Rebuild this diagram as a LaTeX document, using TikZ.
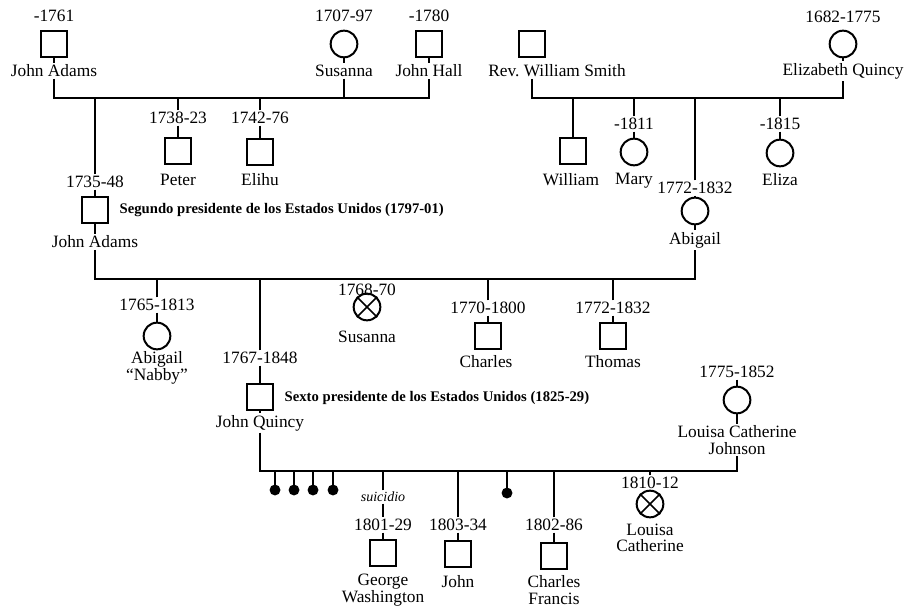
\documentclass[tikz,border=0pt]{standalone}
\usepackage{fontspec}
\setmainfont{Liberation Serif}

\tikzset{every picture/.style={line width=1.1pt}}
\tikzset{
  male/.style={draw, rectangle, minimum size=19pt, inner sep=0pt, line width=1.5pt},
  female/.style={draw, circle, minimum size=20pt, inner sep=0pt, line width=1.5pt},
  lost/.style={draw, circle, fill, minimum size=7pt, inner sep=0pt},
  lbl/.style={inner sep=0.75pt, align=center, font=\fontsize{13}{12.5}\selectfont},
  note/.style={inner sep=0.75pt, anchor=west, font=\fontsize{11}{13}\selectfont\bfseries},
  small/.style={inner sep=0.75pt, font=\fontsize{10.5}{12}\selectfont\itshape}
}

\begin{document}
\begin{tikzpicture}[x=0.75pt,y=0.75pt,yscale=-1,xscale=1]
\path[use as bounding box] (0,0) rectangle (905,609);

%Shape: Square [id:jas] 
\draw (54,16) node [lbl] (jasDate) {-1761};
\draw (54,44) node [male] (jas) {};
\draw (54,71) node [lbl] (jasName) {John Adams};
%Shape: Circle [id:sus] 
\draw (344,16) node [lbl] (susDate) {1707-97};
\draw (344,44) node [female] (sus) {};
\draw (344,71) node [lbl] (susName) {Susanna};
%Shape: Square [id:jh] 
\draw (429,16) node [lbl] (jhDate) {-1780};
\draw (429,44) node [male] (jh) {};
\draw (429,71) node [lbl] (jhName) {John Hall};
%Shape: Square [id:sm] 
\draw (532,44) node [male] (sm) {};
\draw (557,71) node [lbl] (smName) {Rev.\ William Smith};
%Shape: Circle [id:eq] 
\draw (843,17) node [lbl] (eqDate) {1682-1775};
\draw (843,44) node [female] (eq) {};
\draw (843,71) node [lbl] (eqName) {Elizabeth Quincy};

% marriage lines, first generation
\coordinate (m1) at (54,98);
\coordinate (m2) at (532,98);
%Straight Lines 
\draw (jas) -- (jasName);
\draw (sus) -- (susName);
\draw (jh) -- (jhName);
\draw (eq) -- (eqName);
\draw (jasName) -- (jasName |- m1) -- (jhName |- m1) -- (jhName);
\draw (susName) -- (susName |- m1);
\draw (smName.south -| sm) -- (m2) -- (eqName |- m2) -- (eqName);

%Shape: Square [id:pet] 
\draw (178,118) node [lbl] (petDate) {1738-23};
\draw (178,151) node [male] (pet) {};
\draw (178,180) node [lbl] (petName) {Peter};
%Shape: Square [id:eli] 
\draw (260,118) node [lbl] (eliDate) {1742-76};
\draw (260,152) node [male] (eli) {};
\draw (260,180) node [lbl] (eliName) {Elihu};
%Shape: Square [id:wil] 
\draw (573,151) node [male] (wil) {};
\draw (571,180) node [lbl] (wilName) {William};
%Shape: Circle [id:mar] 
\draw (634,124) node [lbl] (marDate) {-1811};
\draw (634,152) node [female] (mar) {};
\draw (634,181) node [lbl] (marName) {Mary};
%Shape: Circle [id:elz] 
\draw (780,124) node [lbl] (elzDate) {-1815};
\draw (780,153) node [female] (elz) {};
\draw (780,180) node [lbl] (elzName) {Eliza};

%Straight Lines 
\draw (petDate) -- (petDate |- m1);
\draw (petDate) -- (pet);
\draw (eliDate) -- (eliDate |- m1);
\draw (eliDate) -- (eli);
\draw (wil) -- (wil |- m2);
\draw (marDate) -- (marDate |- m2);
\draw (marDate) -- (mar);
\draw (elzDate) -- (elzDate |- m2);
\draw (elzDate) -- (elz);

%Shape: Square [id:ja] 
\draw (95,182) node [lbl] (jaDate) {1735-48};
\draw (95,210) node [male] (ja) {};
\draw (95,242) node [lbl] (jaName) {John Adams};
\draw (118,210) node [note] (jaNote) {Segundo presidente de los Estados Unidos (1797-01)};
%Shape: Circle [id:abi] 
\draw (695,188) node [lbl] (abiDate) {1772-1832};
\draw (695,211) node [female] (abi) {};
\draw (695,240) node [lbl] (abiName) {Abigail};

\coordinate (m3) at (95,279);
%Straight Lines 
\draw (jaDate) -- (jaDate |- m1);
\draw (jaDate) -- (ja) -- (jaName);
\draw (abiDate) -- (abiDate |- m2);
\draw (abiDate) -- (abi) -- (abiName);
\draw (jaName) -- (m3) -- (abiName |- m3) -- (abiName);

%Shape: Circle [id:nab] 
\draw (157,305) node [lbl] (nabDate) {1765-1813};
\draw (157,336) node [female] (nab) {};
\draw (157,368) node [lbl] (nabName) {Abigail\\“Nabby”};
%Shape: Circle [id:su2] 
\draw (367,290) node [lbl] (su2Date) {1768-70};
\draw (367,307) node [female] (su2) {};
\draw (367,337) node [lbl] (su2Name) {Susanna};
\draw (su2.45) -- (su2.225) (su2.135) -- (su2.315);
%Shape: Square [id:cha] 
\draw (488,308) node [lbl] (chaDate) {1770-1800};
\draw (488,336) node [male] (cha) {};
\draw (486,362) node [lbl] (chaName) {Charles};
%Shape: Square [id:tho] 
\draw (613,308) node [lbl] (thoDate) {1772-1832};
\draw (613,336) node [male] (tho) {};
\draw (613,362) node [lbl] (thoName) {Thomas};
%Shape: Square [id:jq] 
\draw (260,358) node [lbl] (jqDate) {1767-1848};
\draw (260,397) node [male] (jq) {};
\draw (260,423) node [lbl] (jqName) {John Quincy};
\draw (283,398) node [note] (jqNote) {Sexto presidente de los Estados Unidos (1825-29)};
%Shape: Circle [id:lcj] 
\draw (737,372) node [lbl] (lcjDate) {1775-1852};
\draw (737,400) node [female] (lcj) {};
\draw (737,440) node [lbl] (lcjName) {Louisa Catherine\\Johnson};

\coordinate (m4) at (260,471);
%Straight Lines 
\draw (nabDate) -- (nabDate |- m3);
\draw (nabDate) -- (nab);
\draw (chaDate) -- (chaDate |- m3);
\draw (chaDate) -- (cha);
\draw (thoDate) -- (thoDate |- m3);
\draw (thoDate) -- (tho);
\draw (jqDate) -- (jqDate |- m3);
\draw (jqDate) -- (jq) -- (jqName);
\draw (lcjDate) -- (lcj) -- (lcjName);
\draw (jqName) -- (m4) -- (lcjName |- m4) -- (lcjName);

%Shape: Circle [id:lost] 
\draw (275,490) node [lost] (d1) {};
\draw (294,490) node [lost] (d2) {};
\draw (313,490) node [lost] (d3) {};
\draw (333,490) node [lost] (d4) {};
\draw (507,493) node [lost] (d5) {};
%Shape: Square [id:gw] 
\draw (383,497) node [small] (gwNote) {suicidio};
\draw (383,525) node [lbl] (gwDate) {1801-29};
\draw (383,553) node [male] (gw) {};
\draw (383,590) node [lbl] (gwName) {George\\Washington};
%Shape: Square [id:jn] 
\draw (458,525) node [lbl] (jnDate) {1803-34};
\draw (458,554) node [male] (jn) {};
\draw (458,582) node [lbl] (jnName) {John};
%Shape: Square [id:cf] 
\draw (554,525) node [lbl] (cfDate) {1802-86};
\draw (554,556) node [male] (cf) {};
\draw (554,590) node [lbl] (cfName) {Charles\\Francis};
%Shape: Circle [id:lc] 
\draw (650,483) node [lbl] (lcDate) {1810-12};
\draw (650,504) node [female] (lc) {};
\draw (650,538) node [lbl] (lcName) {Louisa\\Catherine};
\draw (lc.45) -- (lc.225) (lc.135) -- (lc.315);

%Straight Lines 
\foreach \d in {d1,d2,d3,d4,d5}
  \draw (\d) -- (\d |- m4);
\draw (gwNote) -- (gwNote |- m4);
\draw (gwNote) -- (gwDate) -- (gw);
\draw (jnDate) -- (jnDate |- m4);
\draw (jnDate) -- (jn);
\draw (cfDate) -- (cfDate |- m4);
\draw (cfDate) -- (cf);
\draw (lcDate) -- (lcDate |- m4);

\end{tikzpicture}
\end{document}
